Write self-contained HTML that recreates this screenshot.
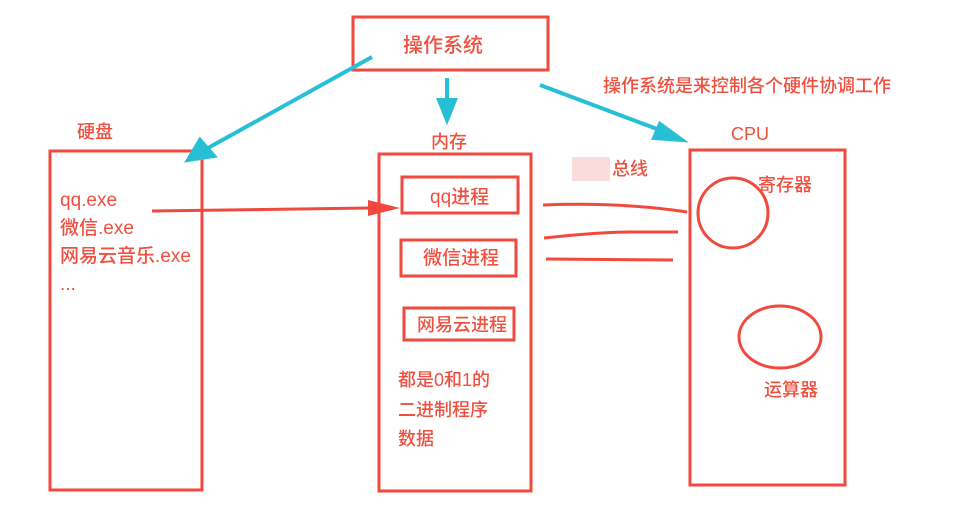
<!DOCTYPE html>
<html><head><meta charset="utf-8"><style>
body{margin:0;background:#fff;}
svg{display:block}
text{font-family:"Liberation Sans","Noto Sans CJK SC",sans-serif;fill:#f0503f;font-weight:500;}
</style></head><body>
<svg width="955" height="508" viewBox="0 0 955 508">
<g fill="none" stroke="#f04a3e" stroke-width="3">
<rect x="353" y="17" width="195" height="53"/>
<rect x="50" y="151" width="152" height="339"/>
<rect x="379" y="154" width="152" height="337"/>
<rect x="402" y="177" width="116" height="36"/>
<rect x="401" y="240" width="115" height="36"/>
<rect x="404" y="308" width="110" height="32"/>
<rect x="690" y="150" width="155" height="335"/>
<ellipse cx="733" cy="213" rx="35" ry="35"/>
<ellipse cx="780" cy="337" rx="41" ry="31"/>
<path d="M543 205 Q620 202 687 212"/>
<path d="M544 238 Q600 232 630 232 L678 232"/>
<path d="M546 259 L673 260"/>
</g>
<path d="M152 211 L370 208" stroke="#f04a3e" stroke-width="3"/>
<polygon points="368,200 400,208 368,216" fill="#f04a3e"/>
<g stroke="#27bfd6" stroke-width="4" fill="#27bfd6">
<line x1="372" y1="57" x2="208" y2="148"/>
<polygon points="188,160 200,140 214,156"/>
<line x1="447" y1="78" x2="447" y2="105"/>
<polygon points="439,100 455,100 447,120"/>
<line x1="540" y1="85" x2="665" y2="132"/>
<polygon points="682,140 660,124 654,138"/>
</g>
<text x="403" y="52" font-size="20">操作系统</text>
<text x="603" y="92" font-size="18">操作系统是来控制各个硬件协调工作</text>
<text x="77" y="138" font-size="18">硬盘</text>
<text x="431" y="148" font-size="18">内存</text>
<text x="731" y="140" font-size="18">CPU</text>
<rect x="572" y="157" width="38" height="24" fill="#fadcdc"/>
<text x="612" y="175" font-size="18">总线</text>
<text x="60" y="206" font-size="19">qq.exe</text>
<text x="60" y="234" font-size="19">微信.exe</text>
<text x="60" y="262" font-size="19">网易云音乐.exe</text>
<text x="60" y="290" font-size="19">...</text>
<text x="430" y="203" font-size="19">qq进程</text>
<text x="423" y="264" font-size="19">微信进程</text>
<text x="417" y="331" font-size="18">网易云进程</text>
<text x="398" y="386" font-size="18">都是0和1的</text>
<text x="398" y="416" font-size="18">二进制程序</text>
<text x="398" y="445" font-size="18">数据</text>
<text x="758" y="191" font-size="18">寄存器</text>
<text x="764" y="396" font-size="18">运算器</text>
</svg>
</body></html>
